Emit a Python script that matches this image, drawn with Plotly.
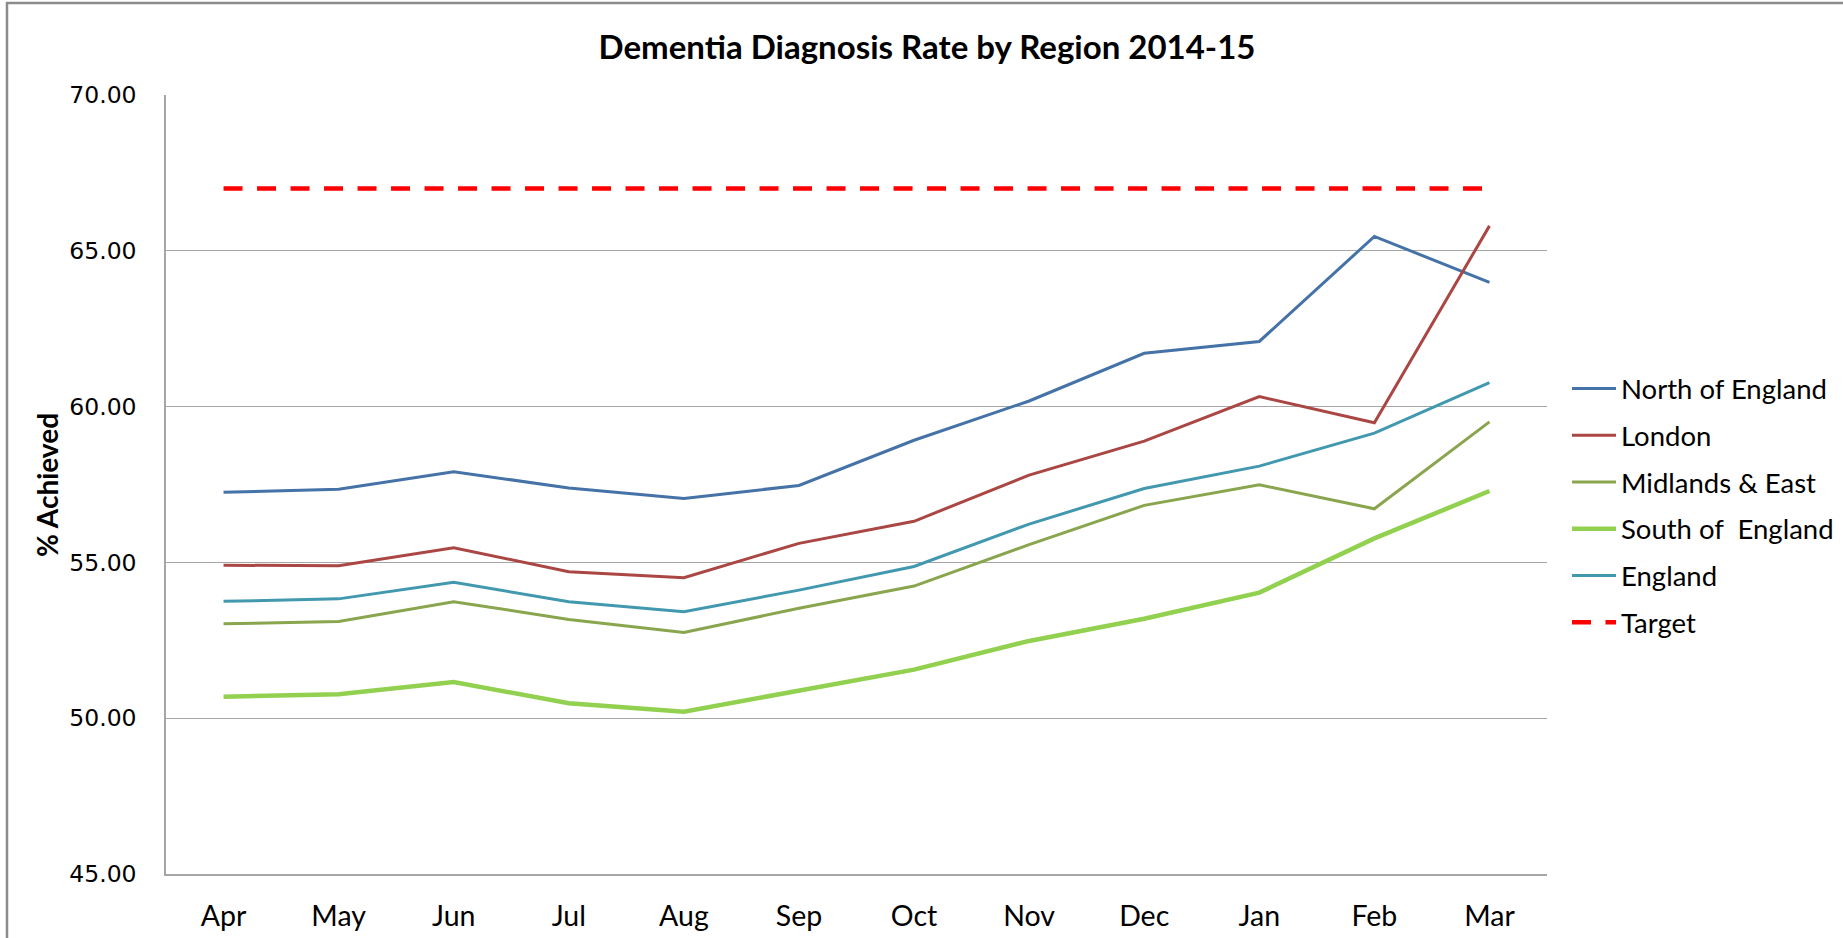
import plotly.graph_objects as go

months = ["Apr", "May", "Jun", "Jul", "Aug", "Sep", "Oct", "Nov", "Dec", "Jan", "Feb", "Mar"]
north = [57.25, 57.35, 57.91, 57.39, 57.05, 57.47, 58.92, 60.18, 61.71, 62.09, 65.46, 63.99]
london = [54.91, 54.89, 55.47, 54.70, 54.51, 55.61, 56.32, 57.80, 58.89, 60.32, 59.48, 65.80]
midlands = [53.03, 53.10, 53.74, 53.17, 52.75, 53.53, 54.24, 55.57, 56.83, 57.49, 56.72, 59.51]
south = [50.69, 50.77, 51.16, 50.48, 50.21, 50.89, 51.56, 52.48, 53.19, 54.03, 55.77, 57.29]
england = [53.75, 53.83, 54.36, 53.74, 53.42, 54.11, 54.87, 56.23, 57.37, 58.09, 59.15, 60.77]
target = [67.0] * 12
y_ticks = [45, 50, 55, 60, 65, 70]

W, H = 1843, 938
L, R, T, B = 166, 296, 95, 64
PW, PH = W - L - R, H - T - B

series = [
    ("North of England", north, "#4572A7", 3, "solid"),
    ("London", london, "#AA4643", 3, "solid"),
    ("Midlands & East", midlands, "#89A54E", 3, "solid"),
    ("South of  England", south, "#92D050", 4.5, "solid"),
    ("England", england, "#4198AF", 3, "solid"),
    ("Target", target, "#FF0000", 4.5, "19px,14.5px"),
]

fig = go.Figure()
for i, (name, vals, col, w, dash) in enumerate(series):
    fig.add_trace(go.Scatter(
        x=months, y=vals, name=name, mode="lines",
        line=dict(color=col, width=w, dash=dash),
        legendgroup=f"g{i}",
    ))

text_font = "Lato, 'Liberation Sans', sans-serif"

fig.update_layout(
    width=W, height=H,
    margin=dict(l=L, r=R, t=T, b=B, autoexpand=False),
    paper_bgcolor="white", plot_bgcolor="white",
    title=dict(text="<b>Dementia Diagnosis Rate by Region 2014-15</b>",
               x=927 / W, xanchor="center", y=1 - 47.5 / H, yanchor="middle",
               font=dict(family=text_font, size=33, color="black")),
    xaxis=dict(type="category", range=[-0.5, 11.5], showgrid=False, automargin=False,
               showline=True, linecolor="#A6A6A6", linewidth=2,
               ticks="", tickfont=dict(family=text_font, size=28.5, color="black"),
               ticklabelstandoff=16),
    yaxis=dict(range=[45, 70], tickvals=y_ticks, ticktext=[f"{v:.2f}" for v in y_ticks],
               showgrid=True, gridcolor="#A6A6A6", gridwidth=1.3, automargin=False,
               showline=True, linecolor="#A6A6A6", linewidth=1.5,
               zeroline=False, ticks="",
               tickfont=dict(family="'DejaVu Sans', Verdana, sans-serif", size=23.5, color="black"),
               ticklabelstandoff=23),
    legend=dict(x=(1567 - L) / PW, xanchor="left",
                y=(H - B - 364) / PH, yanchor="top",
                font=dict(family=text_font, size=27.5, color="black"),
                traceorder="grouped", tracegroupgap=8, itemwidth=44,
                bgcolor="rgba(0,0,0,0)"),
    showlegend=True,
    annotations=[dict(text="<b>% Achieved</b>", textangle=-90, xref="paper", yref="paper",
                      x=(47 - L) / PW, y=(H - B - 485) / PH,
                      xanchor="center", yanchor="middle", showarrow=False,
                      font=dict(family=text_font, size=28, color="black"))],
    shapes=[dict(type="rect", xref="paper", yref="paper",
                 x0=(7 - L) / PW, x1=(W + 60 - L) / PW,
                 y0=(H - B - (H + 60)) / PH, y1=(H - B - 3) / PH,
                 line=dict(color="#8C8C8C", width=2.5), fillcolor="rgba(0,0,0,0)", layer="above")],
)

fig.write_html("out.html", config={"displayModeBar": False},
               post_script="document.body.style.margin='0';document.body.style.overflow='hidden';")
